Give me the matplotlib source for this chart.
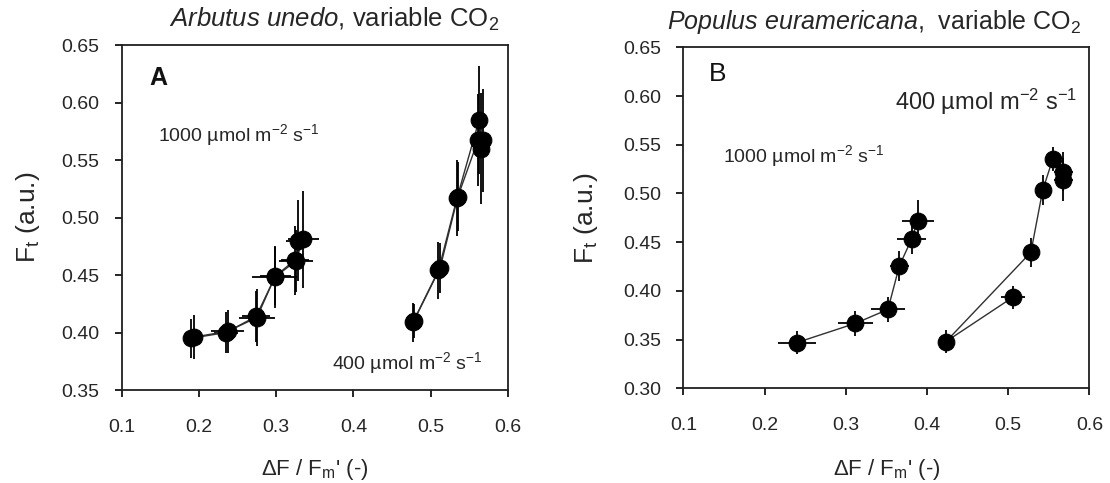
import matplotlib
matplotlib.use("Agg")
import matplotlib.pyplot as plt

plt.rcParams['font.family'] = ['Liberation Sans', 'DejaVu Sans']
plt.rcParams['mathtext.fontset'] = 'custom'
plt.rcParams['mathtext.rm'] = 'Liberation Sans'
plt.rcParams['mathtext.it'] = 'Liberation Sans:italic'
plt.rcParams['mathtext.default'] = 'regular'

TXT = '#262626'

# ---------------- Panel A: Arbutus unedo ----------------
a1000_x1 = [0.193, 0.237, 0.275, 0.298, 0.325, 0.335]
a1000_y1 = [0.396, 0.401, 0.413, 0.448, 0.462, 0.481]
a1000_xe1 = [0.008, 0.021, 0.023, 0.029, 0.022, 0.020]
a1000_ye1 = [0.019, 0.019, 0.025, 0.027, 0.027, 0.042]
a1000_x2 = [0.190, 0.235, 0.274, 0.299, 0.324, 0.328]
a1000_y2 = [0.395, 0.400, 0.414, 0.449, 0.463, 0.480]
a1000_xe2 = [0.008, 0.015, 0.018, 0.020, 0.018, 0.015]
a1000_ye2 = [0.017, 0.018, 0.022, 0.025, 0.030, 0.035]

a400_x1 = [0.477, 0.510, 0.534, 0.5626, 0.568]
a400_y1 = [0.409, 0.454, 0.517, 0.585, 0.567]
a400_xe1 = [0.008, 0.010, 0.010, 0.010, 0.010]
a400_ye1 = [0.017, 0.025, 0.033, 0.047, 0.045]
a400_x2 = [0.478, 0.512, 0.535, 0.561, 0.5656]
a400_y2 = [0.410, 0.456, 0.518, 0.567, 0.560]
a400_xe2 = [0.006, 0.008, 0.008, 0.008, 0.008]
a400_ye2 = [0.015, 0.022, 0.030, 0.040, 0.048]

# ---------------- Panel B: Populus euramericana ----------------
b1000_x = [0.240, 0.312, 0.352, 0.366, 0.381, 0.3887]
b1000_y = [0.347, 0.3667, 0.381, 0.4256, 0.453, 0.4718]
b1000_xe = [0.024, 0.021, 0.021, 0.012, 0.018, 0.020]
b1000_ye = [0.012, 0.013, 0.013, 0.015, 0.015, 0.021]

b400_x = [0.5056, 0.4235, 0.528, 0.5426, 0.555, 0.568, 0.568]
b400_y = [0.3934, 0.348, 0.4396, 0.5036, 0.5354, 0.5224, 0.5139]
b400_xe = [0.015, 0.008, 0.008, 0.008, 0.008, 0.012, 0.012]
b400_ye = [0.012, 0.012, 0.015, 0.015, 0.012, 0.020, 0.022]

x_ticks = [0.1, 0.2, 0.3, 0.4, 0.5, 0.6]
a_yticks = [0.35, 0.40, 0.45, 0.50, 0.55, 0.60, 0.65]
b_yticks = [0.30, 0.35, 0.40, 0.45, 0.50, 0.55, 0.60, 0.65]

fig = plt.figure(figsize=(11.10, 4.83), dpi=100)
axA = fig.add_axes([0.1096, 0.1925, 0.3481, 0.7143])
axB = fig.add_axes([0.6156, 0.1960, 0.3658, 0.7060])


def draw(ax, x, y, xe, ye):
    ax.errorbar(x, y, xerr=xe, yerr=ye, fmt='none', ecolor='black',
                elinewidth=1.3, capsize=0, zorder=2)
    ax.plot(x, y, '-', color='#303030', lw=1.0, zorder=3)
    ax.plot(x, y, 'o', color='black', ms=12, mec='black', mew=0.8, zorder=4)


draw(axA, a1000_x2, a1000_y2, a1000_xe2, a1000_ye2)
draw(axA, a1000_x1, a1000_y1, a1000_xe1, a1000_ye1)
draw(axA, a400_x2, a400_y2, a400_xe2, a400_ye2)
draw(axA, a400_x1, a400_y1, a400_xe1, a400_ye1)
draw(axB, b1000_x, b1000_y, b1000_xe, b1000_ye)
draw(axB, b400_x, b400_y, b400_xe, b400_ye)

for ax, yt, ylim in [(axA, a_yticks, (0.35, 0.65)), (axB, b_yticks, (0.30, 0.65))]:
    ax.set_xlim(0.1, 0.6)
    ax.set_ylim(*ylim)
    ax.set_xticks(x_ticks)
    ax.set_xticklabels([f"{v:.1f}" for v in x_ticks])
    ax.set_yticks(yt)
    ax.set_yticklabels([f"{v:.2f}" for v in yt])
    ax.tick_params(direction='out', length=5, width=1.2, labelsize=14,
                   colors='black', labelcolor=TXT)
    ax.tick_params(axis='x', pad=16)
    ax.tick_params(axis='y', pad=11)
    for s in ax.spines.values():
        s.set_linewidth(1.3)
        s.set_color('#202020')
    ax.set_xlabel("ΔF / F$_m$' (-)", fontsize=16, color=TXT)
    ax.set_ylabel("F$_t$ (a.u.)", fontsize=19, color=TXT)

axA.xaxis.set_label_coords(0.5, -0.195)
axB.xaxis.set_label_coords(0.5, -0.20)
axA.yaxis.set_label_coords(-0.205, 0.5)
axB.yaxis.set_label_coords(-0.205, 0.5)

axA.text(0.55, 1.075, r"$\mathit{Arbutus\ unedo}$, variable CO$_2$",
         transform=axA.transAxes, ha='center', va='center', fontsize=18.5, color=TXT)
axB.text(0.47, 1.075, r"$\mathit{Populus\ euramericana}$,  variable CO$_2$",
         transform=axB.transAxes, ha='center', va='center', fontsize=18, color=TXT)

axA.text(0.147, 0.621, "A", fontsize=18, fontweight='bold', color='#111111',
         ha='center', va='center')
axA.text(0.147, 0.572, "1000 µmol m$^{-2}$ s$^{-1}$", fontsize=14, color=TXT,
         ha='left', va='center')
axA.text(0.372, 0.3735, "400 µmol m$^{-2}$ s$^{-1}$", fontsize=14, color=TXT,
         ha='left', va='center')

axB.text(0.142, 0.623, "B", fontsize=19, color='#111111',
         ha='center', va='center')
axB.text(0.361, 0.594, "400 µmol m$^{-2}$ s$^{-1}$", fontsize=17, color=TXT,
         ha='left', va='center')
axB.text(0.149, 0.538, "1000 µmol m$^{-2}$ s$^{-1}$", fontsize=14, color=TXT,
         ha='left', va='center')

fig.savefig("out.png", dpi=100)
